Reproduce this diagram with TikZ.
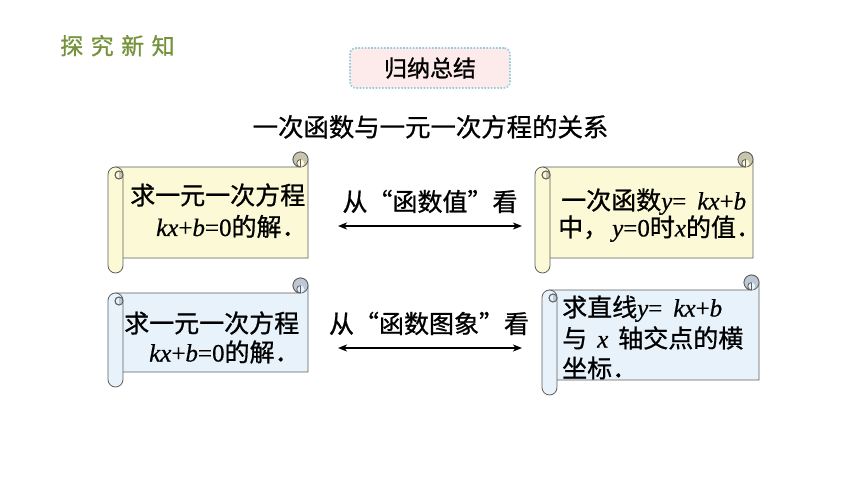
\documentclass[tikz,border=0pt]{standalone}
\usepackage{fontspec}
\setmainfont{Noto Sans CJK SC}[FakeBold=0.8]
\newfontfamily\tmsfont{Liberation Serif}[FakeBold=0.5]
\usetikzlibrary{arrows.meta}
\definecolor{titlegreen}{RGB}{118,146,60}
\definecolor{yelbody}{RGB}{251,249,214}
\definecolor{yelcurl}{RGB}{200,197,172}
\definecolor{bluebody}{RGB}{232,242,250}
\definecolor{bluecurl}{RGB}{190,200,212}
\definecolor{scrollgray}{RGB}{95,95,95}
\definecolor{boxpink}{RGB}{253,234,234}
\definecolor{boxblue}{RGB}{146,205,222}
\newcommand\tmi[1]{{\tmsfont\itshape #1}}
\newcommand\tmr[1]{{\tmsfont #1}}
% scroll: L T R B bodycolor curlcolor
\newcommand\scrollshape[6]{%
  \filldraw[scrollline, fill=#5] ({#1+7.5},{#2+15}) -- ({#3-7.5},{#2+15})
     arc[start angle=90, end angle=360, radius=7.5] -- (#3,{#4-15}) -- ({#1+7.5},{#4-15}) -- cycle;
  \filldraw[scrollline, fill=#6] ({#3-7.5},{#2+7.5}) circle[radius=7.5];
  \fill[#5] ({#3-7.5},{#2+11.25}) circle[radius=3.75];
  \draw[scrollline] ({#3-7.5},{#2+7.5}) arc[start angle=270, end angle=90, radius=3.75];
  \draw[scrollline] ({#3-7.5},{#2+15}) -- ({#3-7.5},{#2+7.5});
  \filldraw[scrollline, fill=#5] (#1,{#2+22.5}) arc[start angle=180, end angle=360, radius=7.5]
     -- ({#1+15},{#4-7.5}) arc[start angle=0, end angle=180, radius=7.5] -- cycle;
  \filldraw[scrollline, fill=#5] ({#1+11},{#2+23}) circle[radius=4];
  \fill[#6] ({#1+11},{#2+19}) arc[start angle=270, end angle=450, radius=4] -- cycle;
  \draw[scrollline] ({#1+11},{#2+23}) circle[radius=4];
}
\tikzset{
  scrollline/.style={draw=scrollgray, line width=0.8pt},
  txt/.style={anchor=base west, inner sep=0pt, font=\fontsize{25}{30}\selectfont},
  ctxt/.style={anchor=base, inner sep=0pt, font=\fontsize{25}{30}\selectfont},
  sumbox/.style={draw=boxblue, fill=boxpink, line width=1.6pt, dash pattern=on 1.6pt off 1.6pt,
     rounded corners=6pt, minimum width=160pt, minimum height=40pt, inner sep=0pt,
     font=\fontsize{23}{28}\selectfont},
  dblarrow/.style={{Stealth[length=9pt,width=7pt,inset=2.5pt]}-{Stealth[length=9pt,width=7pt,inset=2.5pt]}, line width=1.4pt, black}
}
\begin{document}
\begin{tikzpicture}[x=1pt,y=-1pt]
\useasboundingbox[fill=white] (0,0) rectangle (860,484);
% header
\node[anchor=base west, inner sep=0pt, text=titlegreen, font=\fontsize{23}{28}\selectfont] (hdr) at (60,54.5)
  {探\hspace{7.5pt}究\hspace{7.5pt}新\hspace{7.5pt}知};
\node[sumbox] (sum) at (430,68) {归纳总结};
\node[ctxt, font=\fontsize{25.4}{30}\selectfont] (title) at (430.5,136.5) {一次函数与一元一次方程的关系};
% scrolls
\scrollshape{108}{152}{308}{273}{yelbody}{yelcurl}
\scrollshape{535}{152}{753}{273}{yelbody}{yelcurl}
\scrollshape{108}{278}{308}{387}{bluebody}{bluecurl}
\scrollshape{542}{275}{759}{395}{bluebody}{bluecurl}
% texts scroll 1
\node[txt] (s1a) at (130,204.5) {求一元一次方程};
\node[txt] (s1b) at (156,236) {\tmi{kx}\tmr{+}\tmi{b}\tmr{=0}的解．};
% scroll 2
\node[txt] (s2a) at (561,209.5) {一次函数\tmi{y}\tmr{=}\hspace{11pt}\tmi{kx}\tmr{+}\tmi{b}};
\node[txt] (s2b) at (558,236.5) {中，\hspace{4pt}\tmi{y}\tmr{=0}时\tmi{x}的值．};
% scroll 3
\node[txt] (s3a) at (124,332.5) {求一元一次方程};
\node[txt] (s3b) at (149,361.5) {\tmi{kx}\tmr{+}\tmi{b}\tmr{=0}的解．};
% scroll 4
\node[txt] (s4a) at (562,316.5) {求直线\tmi{y}\tmr{=}\hspace{11pt}\tmi{kx}\tmr{+}\tmi{b}};
\node[txt] (s4b) at (562,347.5) {与\hspace{10pt}\tmi{x}\hspace{10pt}轴交点的横};
\node[txt] (s4c) at (562,377.5) {坐标．};
% arrows
\node[ctxt] (lab1) at (430,211) {从“函数值”看};
\node[ctxt] (lab2) at (429,333) {从“函数图象”看};
\coordinate (a1l) at (338,226);
\coordinate (a1r) at (522,226);
\coordinate (a2l) at (338,348);
\coordinate (a2r) at (522,348);
\draw[dblarrow] (a1l) -- (a1r);
\draw[dblarrow] (a2l) -- (a2r);
\end{tikzpicture}
\end{document}
